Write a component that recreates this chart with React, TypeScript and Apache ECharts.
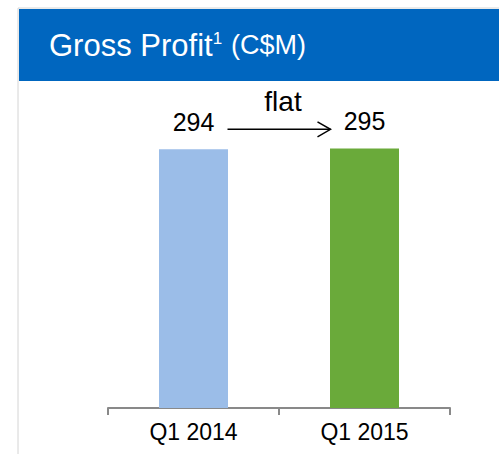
import React, { useEffect, useRef } from "react";
import * as echarts from "echarts";

const categories = ["Q1 2014", "Q1 2015"];
const grossProfit = [294, 295];
const barColors = ["#9BBDE8", "#6AAA3A"];
const changeLabel = "flat";

const FONT = "'Liberation Sans', Arial, sans-serif";

export default function App() {
  const ref = useRef<HTMLDivElement>(null);
  useEffect(() => {
    if (!ref.current) return;
    const chart = echarts.init(ref.current, null, { renderer: "svg" });
    const frame = [
      { type: "line", shape: { x1: 18, y1: 8, x2: 499, y2: 8 }, style: { stroke: "#d4d4d4", lineWidth: 1 } },
      { type: "line", shape: { x1: 18, y1: 8, x2: 18, y2: 454 }, style: { stroke: "#d4d4d4", lineWidth: 1 } },
      { type: "rect", shape: { x: 19, y: 9, width: 480, height: 72 }, style: { fill: "#0066BF" } },
      {
        type: "text",
        x: 49,
        y: 45,
        style: {
          text: "{a|Gross Profit}{s|1}{b|(C$M)}",
          verticalAlign: "middle",
          rich: {
            a: { fontSize: 31, fontFamily: FONT, fill: "#fff", color: "#fff" },
            s: { fontSize: 17, fontFamily: FONT, fill: "#fff", color: "#fff", verticalAlign: "top", padding: [0, 9, 12, 0] },
            b: { fontSize: 27, fontFamily: FONT, fill: "#fff", color: "#fff" },
          },
        },
      },
    ];
    const option: any = {
      animation: false,
      backgroundColor: "#ffffff",
      grid: { left: 108, right: 49, top: 100, bottom: 46 },
      xAxis: {
        type: "category",
        data: categories,
        axisLine: { show: true, lineStyle: { color: "#898989", width: 2 } },
        axisTick: { show: true, length: 7, lineStyle: { color: "#898989", width: 2 } },
        axisLabel: { color: "#000", fontSize: 23, fontFamily: FONT, margin: 12 },
      },
      yAxis: { type: "value", min: 0, max: 350, show: false },
      series: [
        {
          type: "bar",
          barWidth: 69,
          data: grossProfit.map((v, i) => ({ value: v, itemStyle: { color: barColors[i] } })),
          label: {
            show: true,
            position: "top",
            distance: 15,
            color: "#000",
            fontSize: 25,
            fontFamily: FONT,
          },
        },
      ],
      graphic: frame,
    };
    chart.setOption(option);
    const p0 = chart.convertToPixel({ xAxisIndex: 0, yAxisIndex: 0 }, [0, grossProfit[0]]) as number[];
    const p1 = chart.convertToPixel({ xAxisIndex: 0, yAxisIndex: 0 }, [1, grossProfit[1]]) as number[];
    const ay = p0[1] - 20;
    const x1 = p0[0] + 34;
    const x2 = p1[0] - 34;
    chart.setOption({
      graphic: [
        ...frame,
        { type: "line", shape: { x1, y1: ay, x2, y2: ay }, style: { stroke: "#000", lineWidth: 1.5 } },
        {
          type: "polyline",
          shape: { points: [[x2 - 13, ay - 7.5], [x2, ay], [x2 - 13, ay + 7.5]] },
          style: { stroke: "#000", lineWidth: 1.5, fill: "none" },
        },
        {
          type: "text",
          x: (x1 + x2) / 2 + 4,
          y: ay - 28,
          style: { text: changeLabel, fontSize: 28, fontFamily: FONT, fill: "#000", align: "center", verticalAlign: "middle" },
        },
      ],
    }, { replaceMerge: ["graphic"] });
    return () => chart.dispose();
  }, []);
  return <div ref={ref} style={{ position: "fixed", left: 0, top: 0, width: 499, height: 454 }} />;
}
